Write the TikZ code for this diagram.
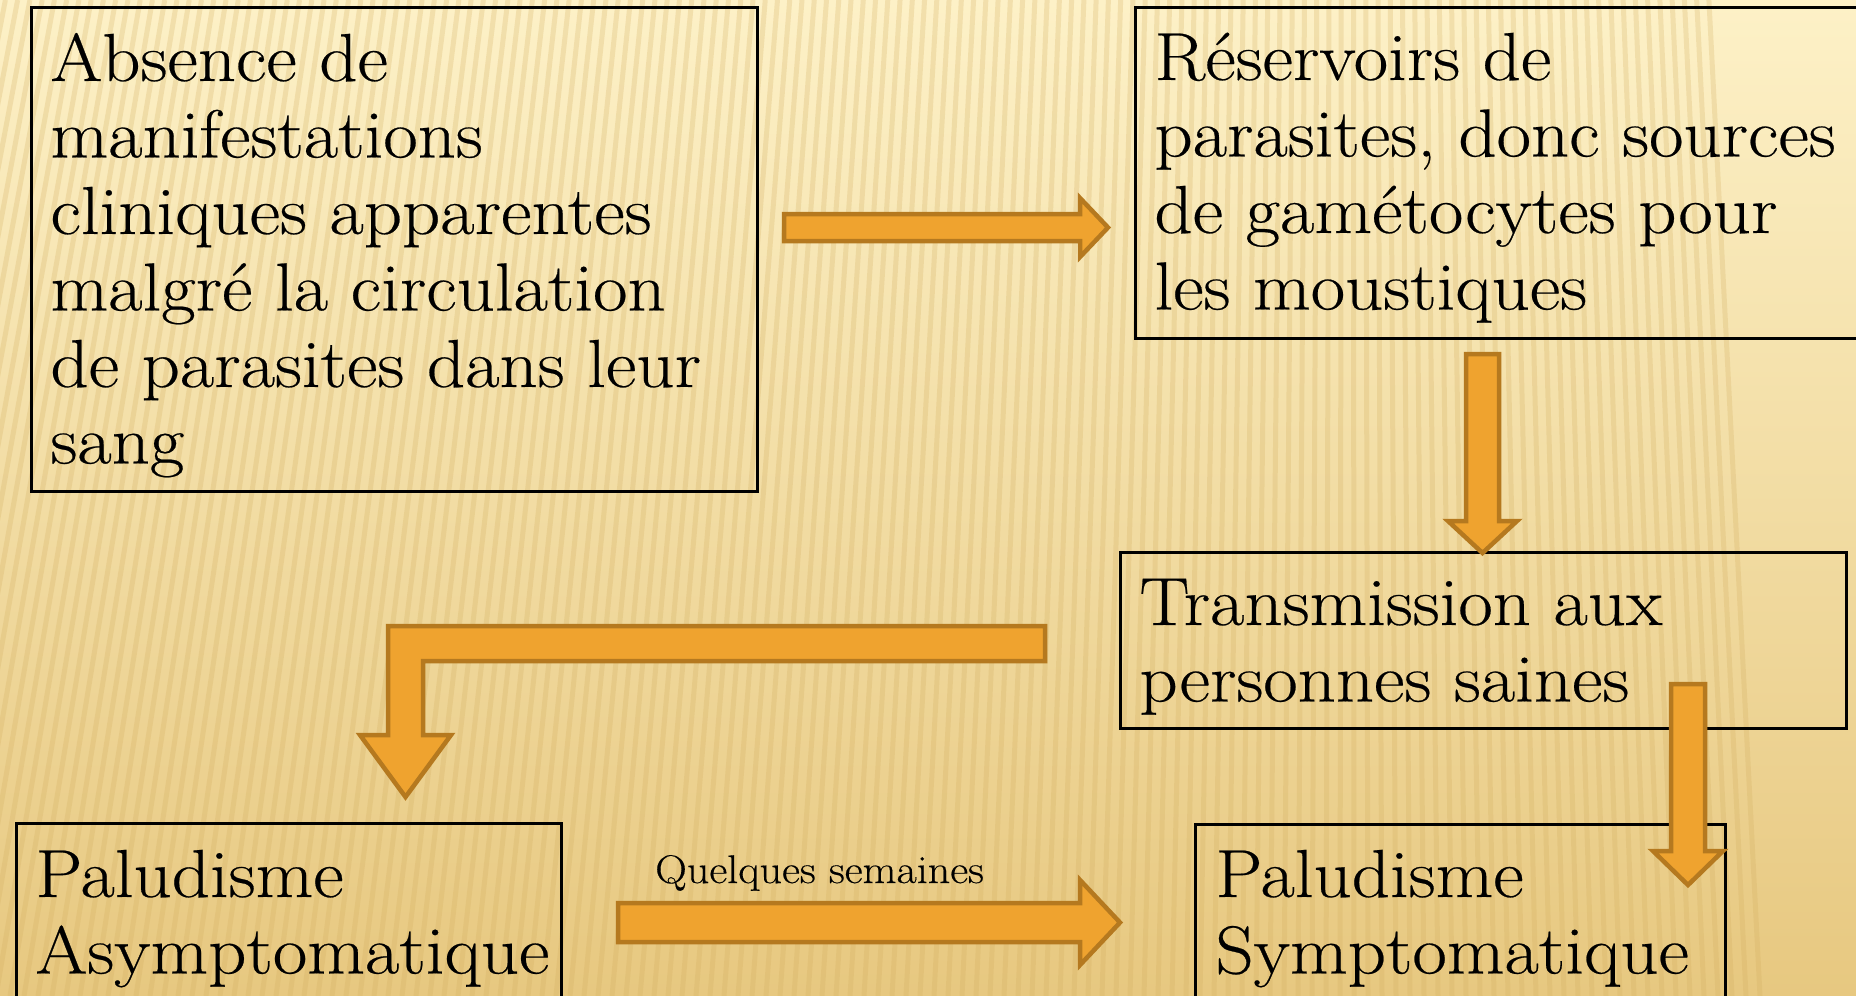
\documentclass[tikz,border=0pt]{standalone}
\usepackage{fontspec}
\setmainfont{Latin Modern Roman}[FakeStretch=1.1, FakeBold=0.35]
\usetikzlibrary{calc}
\definecolor{bgtop}{HTML}{FDF1C7}
\definecolor{bgmid}{HTML}{F5DFA2}
\definecolor{bgbot}{HTML}{E7C880}
\definecolor{raycol}{HTML}{D2AD5E}
\definecolor{arrfill}{HTML}{EFA32F}
\definecolor{arrline}{HTML}{B5791F}
\newcommand{\bigtext}{\fontsize{68}{76.5}\selectfont}
\newcommand{\smalltext}{\fontsize{40}{46}\selectfont}
\tikzset{
  box/.style={draw=black, line width=3pt, anchor=base west, align=left,
    inner ysep=0pt, font=\bigtext},
  blockarrow/.style={fill=arrfill, draw=arrline, line width=4.5pt, line join=miter},
  ray/.style={draw=raycol, line width=5pt, opacity=0.25},
  lbl/.style={anchor=base west, inner sep=0pt, font=\smalltext}
}
\begin{document}
\begin{tikzpicture}[x=1pt,y=-1pt]
\useasboundingbox (0,0) rectangle (1856,996);
\begin{scope}
\clip (0,0) rectangle (1856,996);
\shade[top color=bgtop, middle color=bgmid, bottom color=bgbot] (0,0) rectangle (1856,996);
\foreach \i in {0,...,190} {
  \pgfmathsetmacro{\xb}{-900+14*\i}
  \pgfmathsetmacro{\xt}{1350+0.8754*(\xb-1350)}
  \draw[ray] (\xt,0) -- (\xb,996);
}
\end{scope}

% boxes
\node[box, inner xsep=19pt, text width=688pt, text height=74pt, text depth=410pt]
  (absence) at (30,81)
  {Absence de\\manifestations\\cliniques apparentes\\malgré la circulation\\de parasites dans leur\\sang};
\node[box, inner xsep=19pt, text width=698pt, text height=73pt, text depth=258pt]
  (reserv) at (1134,80)
  {Réservoirs de\\parasites, donc sources\\de gamétocytes pour\\les moustiques};
\node[box, inner xsep=19pt, text width=688pt, text height=73pt, text depth=103pt]
  (transm) at (1119,625)
  {Transmission aux\\personnes saines};
\node[box, inner xsep=19pt, text width=507pt, text height=74pt, text depth=120pt]
  (asympt) at (15,897)
  {Paludisme\\Asymptomatique};
\node[box, inner xsep=20pt, text width=490pt, text height=73pt, text depth=120pt]
  (sympt) at (1194,897)
  {Paludisme\\Symptomatique};
\node[lbl] (weeks) at (655,883) {Quelques semaines};

% block arrows
\draw[blockarrow] (784,214) -- (1080,214) -- (1080,198) -- (1108,227.5)
  -- (1080,257) -- (1080,241) -- (784,241) -- cycle;
\draw[blockarrow] (1466,354) -- (1499,354) -- (1499,521) -- (1517,521)
  -- (1482.5,553) -- (1448,521) -- (1466,521) -- cycle;
\draw[blockarrow] (1045,626) -- (388,626) -- (388,735) -- (360,735)
  -- (405.5,797) -- (451,735) -- (423,735) -- (423,661) -- (1045,661) -- cycle;
\draw[blockarrow] (618,903) -- (1080,903) -- (1080,880) -- (1120,922.5)
  -- (1080,965) -- (1080,942) -- (618,942) -- cycle;
\draw[blockarrow] (1671,684) -- (1705,684) -- (1705,851) -- (1723,851)
  -- (1688,885) -- (1653,851) -- (1671,851) -- cycle;
\end{tikzpicture}
\end{document}
